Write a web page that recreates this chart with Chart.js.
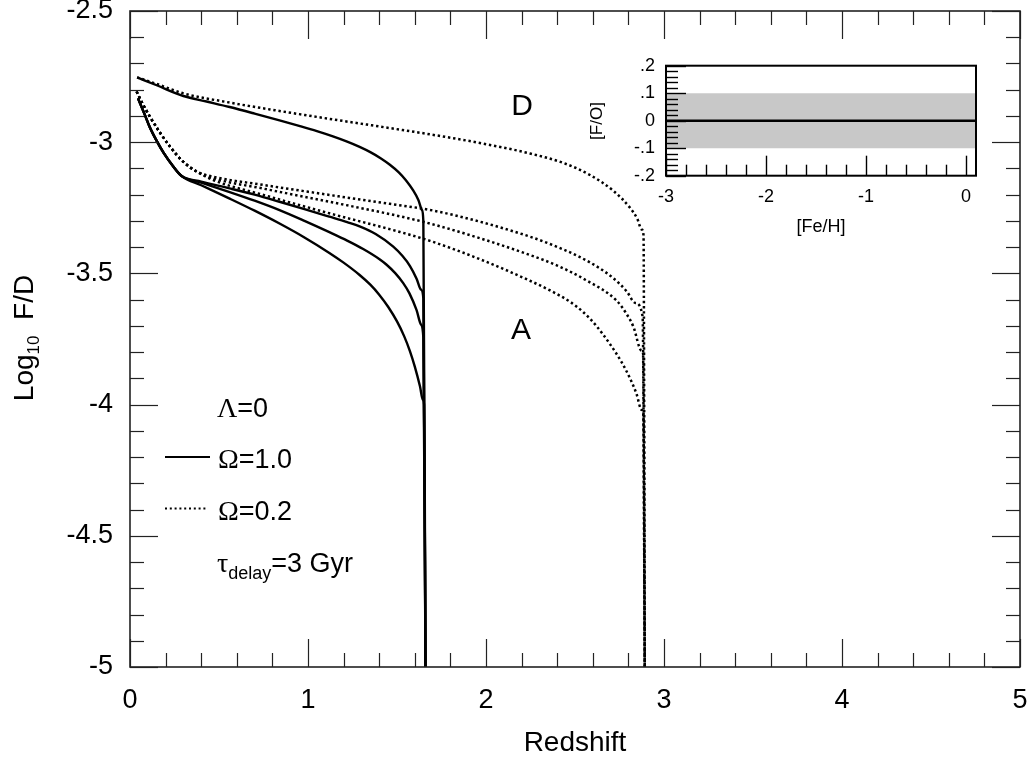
<!DOCTYPE html>
<html><head><meta charset="utf-8">
<script src="https://cdn.jsdelivr.net/npm/chart.js@4.4.1/dist/chart.umd.min.js"></script>
<style>
html,body{margin:0;padding:0;background:#fff;}
#wrap{position:relative;width:1032px;height:759px;overflow:hidden;}
#main{position:absolute;left:0;top:0;}
#inset{position:absolute;left:560px;top:50px;}
</style></head><body>
<div id="wrap"><canvas id="main" width="1032" height="759"></canvas><canvas id="inset" width="430" height="200"></canvas></div>
<script>
// ---------- data ----------
const xTickValues = [0, 1, 2, 3, 4, 5];
const xTickLabels = ['0', '1', '2', '3', '4', '5'];
const yTickValues = [-5, -4.5, -4, -3.5, -3, -2.5];
const yTickLabels = ['-5', '-4.5', '-4', '-3.5', '-3', '-2.5'];

// Omega = 1.0 (solid)
const solidD_x = [0.04,0.15,0.30,0.43,0.56,0.70,0.84,0.95,1.05,1.14,1.22,1.29,1.35,1.41,1.46,1.51,1.55,1.59,1.62,1.64,1.648,1.66];
const solidD_y = [-2.753,-2.783,-2.824,-2.845,-2.866,-2.891,-2.917,-2.938,-2.958,-2.978,-2.998,-3.018,-3.038,-3.062,-3.086,-3.115,-3.145,-3.183,-3.22,-3.258,-3.30,-5.0];

const solidA1_x = [0.045,0.08,0.11,0.15,0.19,0.24,0.29,0.40,0.56,0.70,0.84,0.98,1.12,1.22,1.29,1.38,1.479,1.53,1.573,1.61,1.635,1.648,1.66];
const solidA1_y = [-2.833,-2.89,-2.941,-2.995,-3.042,-3.09,-3.129,-3.150,-3.176,-3.200,-3.227,-3.255,-3.284,-3.305,-3.321,-3.350,-3.398,-3.433,-3.472,-3.52,-3.562,-3.595,-5.0];

const solidA2_x = [0.045,0.08,0.11,0.15,0.19,0.24,0.29,0.40,0.56,0.70,0.84,0.98,1.12,1.22,1.31,1.40,1.44,1.49,1.535,1.57,1.61,1.635,1.648,1.66];
const solidA2_y = [-2.833,-2.89,-2.941,-2.995,-3.042,-3.09,-3.129,-3.154,-3.19,-3.223,-3.259,-3.30,-3.343,-3.375,-3.407,-3.445,-3.466,-3.499,-3.537,-3.576,-3.64,-3.695,-3.745,-5.0];

const solidA3_x = [0.045,0.08,0.11,0.15,0.19,0.24,0.29,0.40,0.56,0.70,0.84,0.98,1.12,1.20,1.29,1.35,1.40,1.45,1.50,1.54,1.573,1.60,1.629,1.645,1.652,1.66];
const solidA3_y = [-2.833,-2.89,-2.941,-2.995,-3.042,-3.09,-3.129,-3.164,-3.215,-3.261,-3.310,-3.363,-3.422,-3.459,-3.506,-3.543,-3.581,-3.627,-3.683,-3.739,-3.797,-3.855,-3.93,-3.981,-4.0,-5.0];

// Omega = 0.2 (dotted)
const dotD_x = [0.04,0.15,0.30,0.56,0.84,1.12,1.40,1.685,1.966,2.247,2.434,2.584,2.715,2.809,2.85,2.875,2.885,2.892];
const dotD_y = [-2.753,-2.778,-2.814,-2.849,-2.881,-2.911,-2.940,-2.970,-3.003,-3.043,-3.079,-3.125,-3.185,-3.25,-3.292,-3.333,-3.355,-5.0];

const dotA1_x = [0.037,0.07,0.112,0.17,0.225,0.30,0.375,0.47,0.75,1.12,1.50,1.685,1.966,2.247,2.36,2.528,2.64,2.715,2.79,2.84,2.88,2.892];
const dotA1_y = [-2.807,-2.852,-2.903,-2.965,-3.017,-3.075,-3.112,-3.132,-3.163,-3.201,-3.239,-3.258,-3.303,-3.36,-3.388,-3.438,-3.481,-3.518,-3.568,-3.613,-3.665,-5.0];

const dotA2_x = [0.037,0.07,0.112,0.17,0.225,0.30,0.375,0.47,0.75,1.12,1.50,1.685,1.966,2.247,2.40,2.56,2.734,2.79,2.828,2.874,2.884,2.892];
const dotA2_y = [-2.807,-2.852,-2.903,-2.965,-3.017,-3.075,-3.112,-3.138,-3.177,-3.227,-3.280,-3.310,-3.366,-3.43,-3.47,-3.525,-3.604,-3.655,-3.703,-3.795,-3.812,-5.0];

const dotA3_x = [0.037,0.07,0.112,0.17,0.225,0.30,0.375,0.47,0.75,1.12,1.50,1.685,1.966,2.247,2.36,2.472,2.547,2.62,2.697,2.76,2.809,2.845,2.874,2.884,2.892];
const dotA3_y = [-2.807,-2.852,-2.903,-2.965,-3.017,-3.075,-3.112,-3.145,-3.201,-3.271,-3.339,-3.376,-3.446,-3.528,-3.565,-3.608,-3.648,-3.70,-3.77,-3.836,-3.90,-3.958,-4.02,-4.04,-5.0];

// inset: [F/O] vs [Fe/H]
const insetXRange = [-3, 0.1];
const insetZero = [0, 0];
const insetBandHigh = [0.1, 0.1];
const insetBandLow = [-0.1, -0.1];
const insetXTicks = [-3, -2, -1, 0];
const insetXLabels = ['-3', '-2', '-1', '0'];
const insetYTicks = [-0.2, -0.1, 0, 0.1, 0.2];
const insetYLabels = ['-.2', '-.1', '0', '.1', '.2'];

// ---------- helpers ----------
const SANS = '"Liberation Sans", Arial, Helvetica, sans-serif';
const SERIF = '"Liberation Serif", "Times New Roman", serif';
const pairs = (xs, ys) => xs.map((x, i) => ({x: x, y: ys[i]}));
const solid = (xs, ys, label) => ({label, data: pairs(xs, ys), borderColor: '#000', borderWidth: 2.4,
  pointRadius: 0, fill: false, showLine: true, cubicInterpolationMode: 'monotone'});
const dotted = (xs, ys, label) => Object.assign(solid(xs, ys, label), {borderDash: [2.4, 2.8], borderWidth: 2.5, borderCapStyle: 'butt'});
const labelFor = (vals, labs) => (v) => { const i = vals.findIndex(t => Math.abs(t - v) < 1e-9); return i < 0 ? '' : labs[i]; };
function seg(ctx, x1, y1, x2, y2) { ctx.beginPath(); ctx.moveTo(x1, y1); ctx.lineTo(x2, y2); ctx.stroke(); }

// ---------- main chart decorations ----------
const mainDecor = {
  id: 'mainDecor',
  afterDatasetsDraw(chart) {
    const {ctx, chartArea: a, scales: {x, y}} = chart;
    ctx.save();
    ctx.strokeStyle = '#222';
    ctx.lineWidth = 1.2;
    for (let i = 0; i <= 25; i++) {
      const px = Math.round(x.getPixelForValue(i * 0.2)) + 0.5;
      const len = (i % 5 === 0) ? 28 : 14;
      seg(ctx, px, a.bottom, px, a.bottom - len);
      seg(ctx, px, a.top, px, a.top + len);
    }
    for (let i = 0; i <= 25; i++) {
      const py = Math.round(y.getPixelForValue(-5 + i * 0.1)) + 0.5;
      const len = (i % 5 === 0) ? 28 : 14;
      seg(ctx, a.left, py, a.left + len, py);
      seg(ctx, a.right, py, a.right - len, py);
    }
    ctx.lineWidth = 1.6;
    ctx.strokeStyle = '#222';
    ctx.strokeRect(a.left, a.top, a.right - a.left, a.bottom - a.top);

    ctx.fillStyle = '#000';
    ctx.textBaseline = 'alphabetic';
    // axis titles
    ctx.font = '28px ' + SANS; ctx.textAlign = 'center';
    ctx.fillText('Redshift', (a.left + a.right) / 2, 751);
    // rotated y title: Log10  F/D
    ctx.save();
    ctx.translate(33, 338);
    ctx.rotate(-Math.PI / 2);
    ctx.textAlign = 'left';
    ctx.font = '28px ' + SANS; const w1 = ctx.measureText('Log').width;
    ctx.font = '17px ' + SANS; const w2 = ctx.measureText('10').width;
    ctx.font = '28px ' + SANS; const w3 = ctx.measureText('  F/D').width;
    let sx = -(w1 + w2 + w3) / 2;
    ctx.font = '28px ' + SANS; ctx.fillText('Log', sx, 0); sx += w1;
    ctx.font = '17px ' + SANS; ctx.fillText('10', sx, 6); sx += w2;
    ctx.font = '28px ' + SANS; ctx.fillText('  F/D', sx, 0);
    ctx.restore();

    // curve labels
    ctx.font = '30px ' + SANS; ctx.textAlign = 'center';
    ctx.fillText('D', 522, 115);
    ctx.fillText('A', 521, 339);

    // key text
    ctx.textAlign = 'left';
    const row = (parts, x0, base) => {
      let cx = x0;
      parts.forEach(p => { ctx.font = p[1]; ctx.fillText(p[0], cx, base + (p[2] || 0)); cx += ctx.measureText(p[0]).width; });
    };
    row([['\u039B', '28px ' + SERIF], ['=0', '27px ' + SANS]], 217, 417);
    row([['\u03A9', '28px ' + SERIF], ['=1.0', '27px ' + SANS]], 218, 468);
    row([['\u03A9', '28px ' + SERIF], ['=0.2', '27px ' + SANS]], 218, 520);
    row([['\u03C4', '28px ' + SERIF], ['delay', '18px ' + SANS, 7], ['=3 Gyr', '27px ' + SANS]], 217, 572);
    ctx.strokeStyle = '#000'; ctx.lineWidth = 2;
    seg(ctx, 165, 457, 210, 457);
    ctx.setLineDash([2, 2.8]);
    seg(ctx, 165, 508.5, 207, 508.5);
    ctx.setLineDash([]);
    ctx.restore();
  }
};

new Chart(document.getElementById('main'), {
  type: 'scatter',
  data: {
    datasets: [
      solid(solidD_x, solidD_y, '\u03A9=1.0 D'),
      solid(solidA1_x, solidA1_y, '\u03A9=1.0 A1'),
      solid(solidA2_x, solidA2_y, '\u03A9=1.0 A2'),
      solid(solidA3_x, solidA3_y, '\u03A9=1.0 A3'),
      dotted(dotD_x, dotD_y, '\u03A9=0.2 D'),
      dotted(dotA1_x, dotA1_y, '\u03A9=0.2 A1'),
      dotted(dotA2_x, dotA2_y, '\u03A9=0.2 A2'),
      dotted(dotA3_x, dotA3_y, '\u03A9=0.2 A3')
    ]
  },
  options: {
    responsive: false, animation: false, devicePixelRatio: 1,
    layout: {padding: {left: 0, right: 12, top: 11, bottom: 0}},
    plugins: {legend: {display: false}, tooltip: {enabled: false}},
    scales: {
      x: {
        type: 'linear', min: 0, max: 5,
        afterBuildTicks: s => { s.ticks = xTickValues.map(v => ({value: v})); },
        grid: {display: false, drawTicks: false}, border: {display: false},
        ticks: {font: {family: SANS, size: 27}, color: '#000', padding: 17, maxRotation: 0, autoSkip: false,
          callback: labelFor(xTickValues, xTickLabels)},
        afterFit: s => { s.height = 92; s.paddingLeft = 0; s.paddingRight = 0; s.paddingTop = 0; s.paddingBottom = 0; }
      },
      y: {
        type: 'linear', min: -5, max: -2.5,
        afterBuildTicks: s => { s.ticks = yTickValues.map(v => ({value: v})); },
        grid: {display: false, drawTicks: false}, border: {display: false},
        ticks: {font: {family: SANS, size: 27}, color: '#000', padding: 17, autoSkip: false,
          callback: labelFor(yTickValues, yTickLabels)},
        afterFit: s => { s.width = 130; s.paddingLeft = 0; s.paddingRight = 0; s.paddingTop = 0; s.paddingBottom = 0; }
      }
    }
  },
  plugins: [mainDecor]
});

// ---------- inset ----------
const insetDecor = {
  id: 'insetDecor',
  afterDatasetsDraw(chart) {
    const {ctx, chartArea: a, scales: {x, y}} = chart;
    ctx.save();
    ctx.strokeStyle = '#000';
    ctx.lineWidth = 1.4;
    for (let i = 0; i <= 20; i++) {
      const py = Math.round(y.getPixelForValue(-0.2 + i * 0.02)) + 0.5;
      const len = (i % 5 === 0) ? 20 : 12;
      seg(ctx, a.left, py, a.left + len, py);
    }
    for (let i = 0; i <= 15; i++) {
      const px = Math.round(x.getPixelForValue(-3 + i * 0.2)) + 0.5;
      const len = (i % 5 === 0) ? 20 : 11;
      seg(ctx, px, a.bottom, px, a.bottom - len);
    }
    ctx.lineWidth = 2;
    ctx.strokeRect(a.left, a.top, a.right - a.left, a.bottom - a.top);
    ctx.fillStyle = '#000';
    ctx.textBaseline = 'alphabetic';
    ctx.font = '18px ' + SANS; ctx.textAlign = 'center';
    ctx.fillText('[Fe/H]', 821 - 560, 232 - 50);
    ctx.save();
    ctx.translate(602 - 560, 121 - 50);
    ctx.rotate(-Math.PI / 2);
    ctx.font = '17px ' + SANS; ctx.textAlign = 'center';
    ctx.fillText('[F/O]', 0, 0);
    ctx.restore();
    ctx.restore();
  }
};

new Chart(document.getElementById('inset'), {
  type: 'line',
  data: {
    datasets: [
      {label: '[F/O]', data: pairs(insetXRange, insetZero), borderColor: '#000', borderWidth: 2.6,
        fill: false, pointRadius: 0, tension: 0, order: 0},
      {label: 'band high', data: pairs(insetXRange, insetBandHigh), borderWidth: 0, borderColor: 'rgba(0,0,0,0)',
        backgroundColor: '#c8c8c8', fill: '+1', pointRadius: 0, tension: 0, order: 1},
      {label: 'band low', data: pairs(insetXRange, insetBandLow), borderWidth: 0, borderColor: 'rgba(0,0,0,0)',
        fill: false, pointRadius: 0, tension: 0, order: 2}
    ]
  },
  options: {
    responsive: false, animation: false, devicePixelRatio: 1,
    layout: {padding: {left: 0, right: 14, top: 15.7, bottom: 0}},
    plugins: {legend: {display: false}, tooltip: {enabled: false}, filler: {drawTime: 'beforeDatasetsDraw'}},
    scales: {
      x: {
        type: 'linear', min: insetXRange[0], max: insetXRange[1],
        afterBuildTicks: s => { s.ticks = insetXTicks.map(v => ({value: v})); },
        grid: {display: false, drawTicks: false}, border: {display: false},
        ticks: {font: {family: SANS, size: 18}, color: '#000', padding: 11, maxRotation: 0, autoSkip: false,
          callback: labelFor(insetXTicks, insetXLabels)},
        afterFit: s => { s.height = 74.3; s.paddingLeft = 0; s.paddingRight = 0; s.paddingTop = 0; s.paddingBottom = 0; }
      },
      y: {
        type: 'linear', min: -0.2, max: 0.2,
        afterBuildTicks: s => { s.ticks = insetYTicks.map(v => ({value: v})); },
        grid: {display: false, drawTicks: false}, border: {display: false},
        ticks: {font: {family: SANS, size: 18}, color: '#000', padding: 11, autoSkip: false,
          callback: labelFor(insetYTicks, insetYLabels)},
        afterFit: s => { s.width = 106; s.paddingLeft = 0; s.paddingRight = 0; s.paddingTop = 0; s.paddingBottom = 0; }
      }
    }
  },
  plugins: [insetDecor]
});
</script>
</body></html>
